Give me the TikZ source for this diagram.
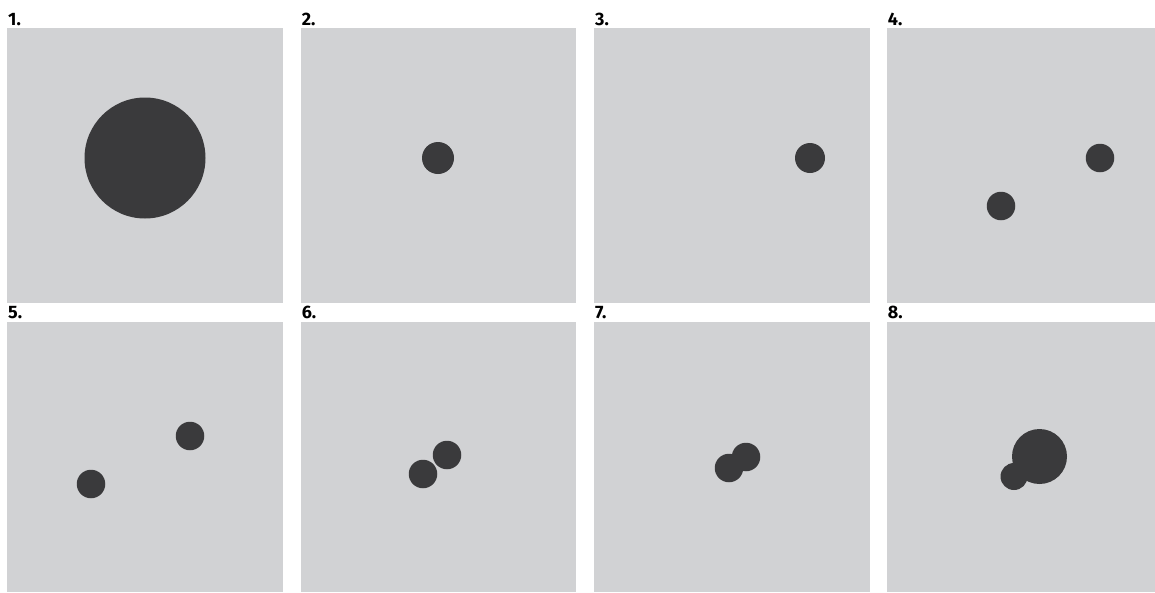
\documentclass[tikz,border=0pt]{standalone}
\usepackage{fontspec}
\newfontfamily\labelfont{Fira Sans}
\usepackage{xcolor}
\usetikzlibrary{positioning}

\definecolor{panelgray}{HTML}{D1D2D4}
\definecolor{dotgray}{HTML}{3A3A3C}

\begin{document}
\begin{tikzpicture}[
x=1pt, y=-1pt,
panel/.style={fill=panelgray, inner sep=0pt, minimum width=275.5pt, minimum height=274.7pt, anchor=north west},
dot/.style={circle, fill=dotgray, inner sep=0pt, minimum size=28.5pt},
num/.style={font=\labelfont\bfseries\fontsize{18}{18}\selectfont, inner sep=0pt, anchor=base west}
]
\useasboundingbox (0,0) rectangle (1155,592);

% panels, top row
\node[panel] (p1) at (7,28) {};
\node[panel] (p2) at (300.7,28) {};
\node[panel] (p3) at (594,28) {};
\node[panel, minimum width=268.3pt] (p4) at (886.7,28) {};

% panels, bottom row
\node[panel, minimum height=270.7pt] (p5) at (7,321.3) {};
\node[panel, minimum height=270.7pt] (p6) at (300.7,321.3) {};
\node[panel, minimum height=270.7pt] (p7) at (594,321.3) {};
\node[panel, minimum width=268.3pt, minimum height=270.7pt] (p8) at (886.7,321.3) {};

% numbers
\node[num, above right=2pt and 1pt of p1.north west] {1.};
\node[num, above right=2pt and 1pt of p2.north west] {2.};
\node[num, above right=2pt and 1pt of p3.north west] {3.};
\node[num, above right=2pt and 1pt of p4.north west] {4.};
\node[num, above right=2pt and 1pt of p5.north west] {5.};
\node[num, above right=2pt and 1pt of p6.north west] {6.};
\node[num, above right=2pt and 1pt of p7.north west] {7.};
\node[num, above right=2pt and 1pt of p8.north west] {8.};

% dots
\node[dot, minimum size=121pt] (d1) at (145,158) {};
\node[dot, minimum size=32pt] (d2) at (438,158) {};
\node[dot, minimum size=30pt] (d3) at (810,158) {};
\node[dot] (d4a) at (1100,158) {};
\node[dot] (d4b) at (1001,206) {};
\node[dot] (d5a) at (190,436) {};
\node[dot] (d5b) at (91,484) {};
\node[dot] (d6a) at (447,455) {};
\node[dot] (d6b) at (423,474) {};
\node[dot] (d7a) at (746,457) {};
\node[dot] (d7b) at (729,468) {};
\node[dot, minimum size=55pt] (d8a) at (1039.5,456.5) {};
\node[dot, minimum size=27pt] (d8b) at (1014,476.5) {};

\end{tikzpicture}
\end{document}
